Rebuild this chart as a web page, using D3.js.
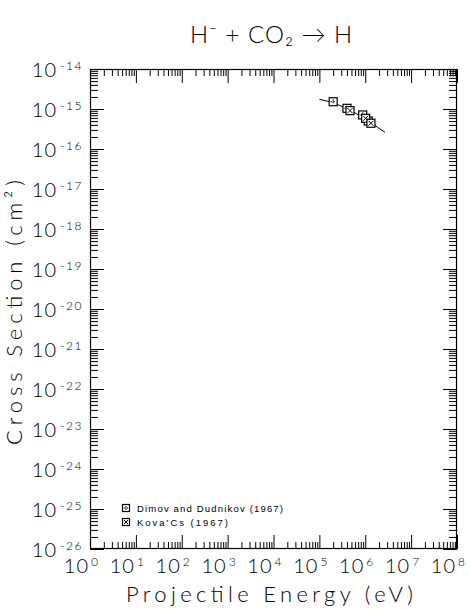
<!DOCTYPE html>
<html><head><meta charset="utf-8">
<script src="https://cdn.jsdelivr.net/npm/d3@7"></script>
<style>body{margin:0;background:#fff}svg{display:block}text{font-family:"Liberation Sans",Arial,sans-serif;fill:#000}.lt{font-family:Lato,"Liberation Sans",sans-serif;font-weight:300}</style>
</head><body><svg id="c" width="470" height="609"></svg>
<script>
// Data
const titleText = "H⁻ + CO₂ → H";
const xTitle = "Projectile Energy (eV)";
const yTitle = "Cross Section (cm²)";
const xExponents = [0,1,2,3,4,5,6,7,8];
const yExponents = [-14,-15,-16,-17,-18,-19,-20,-21,-22,-23,-24,-25,-26];
const seriesNames = ["Dimov and Dudnikov (1967)", "Kova'Cs (1967)"];
const dimovE = [2.0e5, 4.0e5, 8.8e5, 1.16e6];
const dimovS = [1.52e-15, 1.04e-15, 7.1e-16, 5.0e-16];
const kovacsE = [4.65e5, 1.02e6, 1.33e6];
const kovacsS = [9.1e-16, 5.85e-16, 4.4e-16];
const fitE = [1.0e5, 2.0e5, 5.0e5, 1.0e6, 2.7e6];
const fitS = [1.75e-15, 1.45e-15, 9.0e-16, 5.7e-16, 2.6e-16];

const svg = d3.select("#c");
const L=90, R=457, T=69, B=549;
const x = d3.scaleLog().domain([1,1e8]).range([L,R]);
const y = d3.scaleLog().domain([1e-26,1e-14]).range([B,T]);

const majX = xExponents.map(e=>Math.pow(10,e));
const minX = []; for (let e=0;e<8;e++) for (let k=2;k<=9;k++) minX.push(k*Math.pow(10,e));
const majY = yExponents.map(e=>Math.pow(10,e));
const minY = []; for (let e=-26;e<-14;e++) for (let k=2;k<=9;k++) minY.push(k*Math.pow(10,e));

function ax(gen, scale, vals, size, tr){
  const g = svg.append("g").attr("transform",tr)
    .call(gen(scale).tickValues(vals).tickSize(size).tickFormat(""));
  g.select(".domain").remove();
  g.selectAll("line").attr("stroke","#000").attr("stroke-width",1);
}
ax(d3.axisBottom, x, majX, -14, `translate(0,${B})`);
ax(d3.axisBottom, x, minX, -7, `translate(0,${B})`);
ax(d3.axisTop, x, majX, -14, `translate(0,${T})`);
ax(d3.axisTop, x, minX, -7, `translate(0,${T})`);
ax(d3.axisLeft, y, majY, -14, `translate(${L},0)`);
ax(d3.axisLeft, y, minY, -8, `translate(${L},0)`);
ax(d3.axisRight, y, majY, -14, `translate(${R},0)`);
ax(d3.axisRight, y, minY, -8, `translate(${R},0)`);

svg.append("rect").attr("x",L+0.5).attr("y",T+0.5).attr("width",R-L-1).attr("height",B-T-1)
  .attr("fill","none").attr("stroke","#000").attr("stroke-width",1.2);

// x tick labels
xExponents.forEach(e=>{
  const px = x(Math.pow(10,e));
  svg.append("text").attr("class","lt").attr("x",px-1).attr("y",573).attr("text-anchor","end")
    .attr("font-size",20).attr("letter-spacing",1).text("10");
  svg.append("text").attr("class","lt").attr("x",px+1).attr("y",566).attr("font-size",12).text(e);
});
// y tick labels
yExponents.forEach(e=>{
  const py = y(Math.pow(10,e));
  svg.append("text").attr("class","lt").attr("x",57).attr("y",py+8).attr("text-anchor","end")
    .attr("font-size",20).attr("letter-spacing",1).text("10");
  svg.append("text").attr("class","lt").attr("x",60).attr("y",py+1).attr("font-size",12)
    .attr("letter-spacing",1.5).text("-"+Math.abs(e));
});

// title
svg.append("text").attr("class","lt").attr("x",190).attr("y",43).attr("font-size",24)
  .attr("textLength",162).attr("lengthAdjust","spacing").text(titleText);
// x title
svg.append("text").attr("class","lt").attr("x",126).attr("y",602).attr("font-size",22)
  .attr("textLength",287).attr("lengthAdjust","spacing").text(xTitle);
// y title
svg.append("text").attr("class","lt").attr("transform","translate(22,445) rotate(-90)").attr("font-size",22)
  .attr("textLength",265).attr("lengthAdjust","spacing").text(yTitle);

// fit line
const line = d3.line().x(d=>x(d[0])).y(d=>y(d[1]));
svg.append("path").datum(fitE.map((e,i)=>[e,fitS[i]])).attr("d",line)
  .attr("fill","none").attr("stroke","#000").attr("stroke-width",1);

function sym(cx,cy,type,s){
  const g = svg.append("g").attr("transform",`translate(${cx},${cy})`);
  g.append("rect").attr("x",-s/2).attr("y",-s/2).attr("width",s).attr("height",s)
    .attr("fill","#fff").attr("stroke","#000").attr("stroke-width",1.2);
  const h=s/2-1.5;
  if(type===0){
    g.append("path").attr("d",`M${-h},0H${h}M0,${-h}V${h}`).attr("stroke","#000").attr("stroke-width",1).attr("stroke-dasharray","1.5,1");
  } else {
    g.append("path").attr("d",`M${-h},${-h}L${h},${h}M${-h},${h}L${h},${-h}`).attr("stroke","#000").attr("stroke-width",1);
  }
}
dimovE.forEach((e,i)=>sym(x(e),y(dimovS[i]),0,8));
kovacsE.forEach((e,i)=>sym(x(e),y(kovacsS[i]),1,8));

// legend
const legLen=[146,91];
seriesNames.forEach((n,i)=>{
  const ly = 508 + i*14;
  sym(126, ly, i, 7);
  svg.append("text").attr("x",137).attr("y",ly+3.5).attr("font-size",9.5)
    .attr("textLength",legLen[i]).attr("lengthAdjust","spacing").text(n);
});
</script></body></html>
